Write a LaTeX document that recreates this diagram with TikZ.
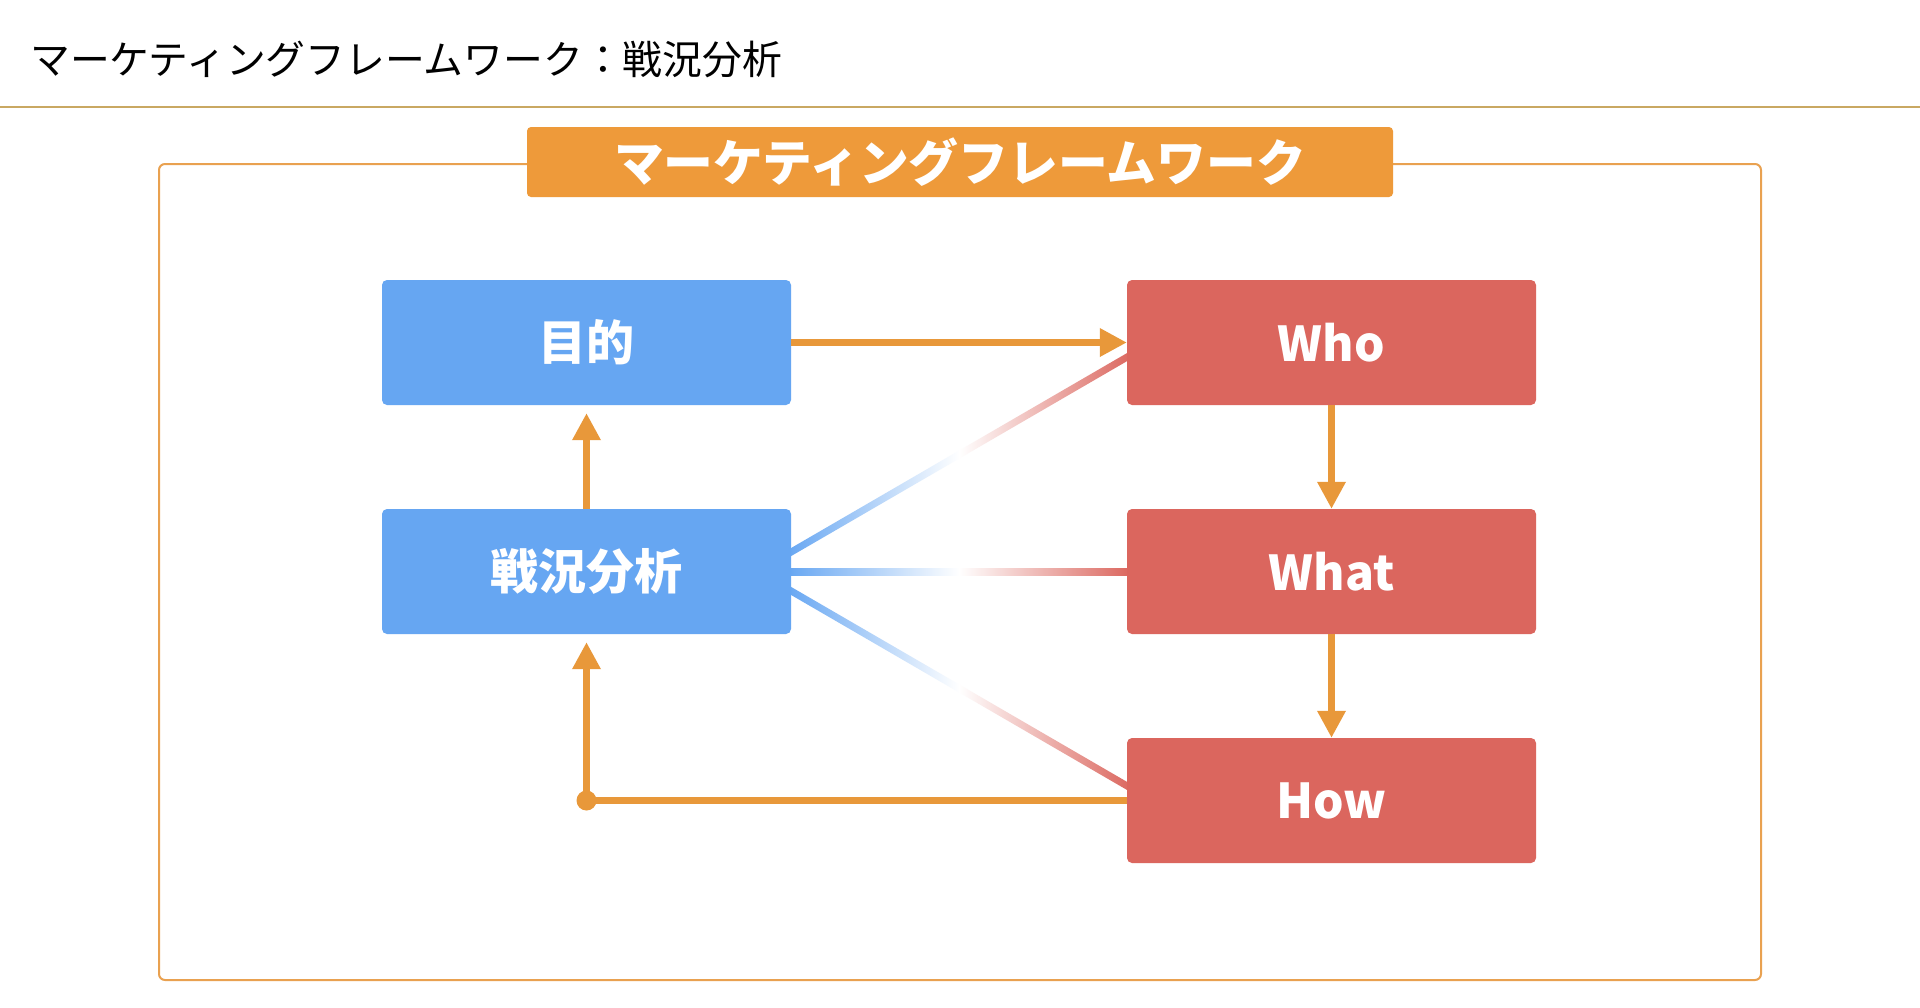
\documentclass[tikz,border=0pt]{standalone}
\usepackage{fontspec}
\newfontfamily\jp{Noto Sans CJK JP}
\usetikzlibrary{arrows.meta,calc,backgrounds}
\definecolor{borange}{HTML}{EE9A3A}
\definecolor{aorange}{HTML}{E8983A}
\definecolor{forange}{HTML}{E9A150}
\definecolor{bblue}{HTML}{66A6F2}
\definecolor{bred}{HTML}{DB665E}
\definecolor{gline}{HTML}{C9A862}
\begin{document}
\begin{tikzpicture}[x=1pt,y=1pt,
  box/.style={rounded corners=5pt, minimum width=409pt, minimum height=125pt, inner sep=0pt, text=white, font=\jp\bfseries\fontsize{48}{58}\selectfont},
  bluebox/.style={box, fill=bblue},
  redbox/.style={box, fill=bred},
  flow/.style={draw=aorange, line width=6.5pt, -{Triangle[length=27pt,width=27pt]}},
  grad/.style={left color=bblue, right color=bred, middle color=white}
]
\useasboundingbox (0,0) rectangle (1920,-1007);

% header
\node[anchor=west, inner sep=0pt, font=\jp\fontsize{39.8}{48}\selectfont] (head) at (30,-59) {マーケティングフレームワーク：戦況分析};
\coordinate (hl) at (0,-106.5);
\coordinate (hr) at (1920,-106.5);
\draw[gline, line width=2pt] (hl) -- (hr);

% frame and banner
\node[draw=forange, line width=2pt, rounded corners=6pt, minimum width=1602pt, minimum height=816pt, inner sep=0pt] (frame) at (960,-572) {};
\node[fill=borange, rounded corners=4pt, minimum width=866pt, minimum height=70pt, inner sep=0pt, text=white, font=\jp\bfseries\fontsize{49.8}{60}\selectfont] (banner) at (960,-162) {マーケティングフレームワーク};

% boxes
\node[bluebox] (goal) at (586.5,-342.5) {目的};
\node[bluebox] (sit) at (586.5,-571.5) {戦況分析};
\node[redbox] (who) at (1331.5,-342.5) {Who};
\node[redbox] (what) at (1331.5,-571.5) {What};
\node[redbox] (how) at (1331.5,-800.5) {How};

% gradient connectors (behind boxes)
\begin{pgfonlayer}{background}
\fill[white] (0,0) rectangle (1920,-1007);
\coordinate (u0) at ($(sit.east)+(0,19.5)$);
\coordinate (l0) at ($(sit.east)+(0,-19.5)$);
\begin{scope}[shift={(u0)}, rotate=30.13]
  \shade[grad] (-4,-3.5) rectangle (392.5,3.5);
\end{scope}
\begin{scope}[shift={(l0)}, rotate=-30.13]
  \shade[grad] (-4,-3.5) rectangle (392.5,3.5);
\end{scope}
\shade[grad] ($(sit.east)+(-4,-3.5)$) rectangle ($(what.west)+(4,3.5)$);
\end{pgfonlayer}

% orange flow arrows
\draw[flow] (goal.east) -- (who.west);
\draw[flow] (sit.north) -- ($(goal.south)+(0,-8)$);
\draw[flow] (who.south) -- (what.north);
\draw[flow] (what.south) -- (how.north);
\coordinate (corner) at (sit.south |- how.west);
\draw[flow] (how.west) -- (corner) -- ($(sit.south)+(0,-8)$);
\fill[aorange] (corner) circle (10pt);
\end{tikzpicture}
\end{document}
